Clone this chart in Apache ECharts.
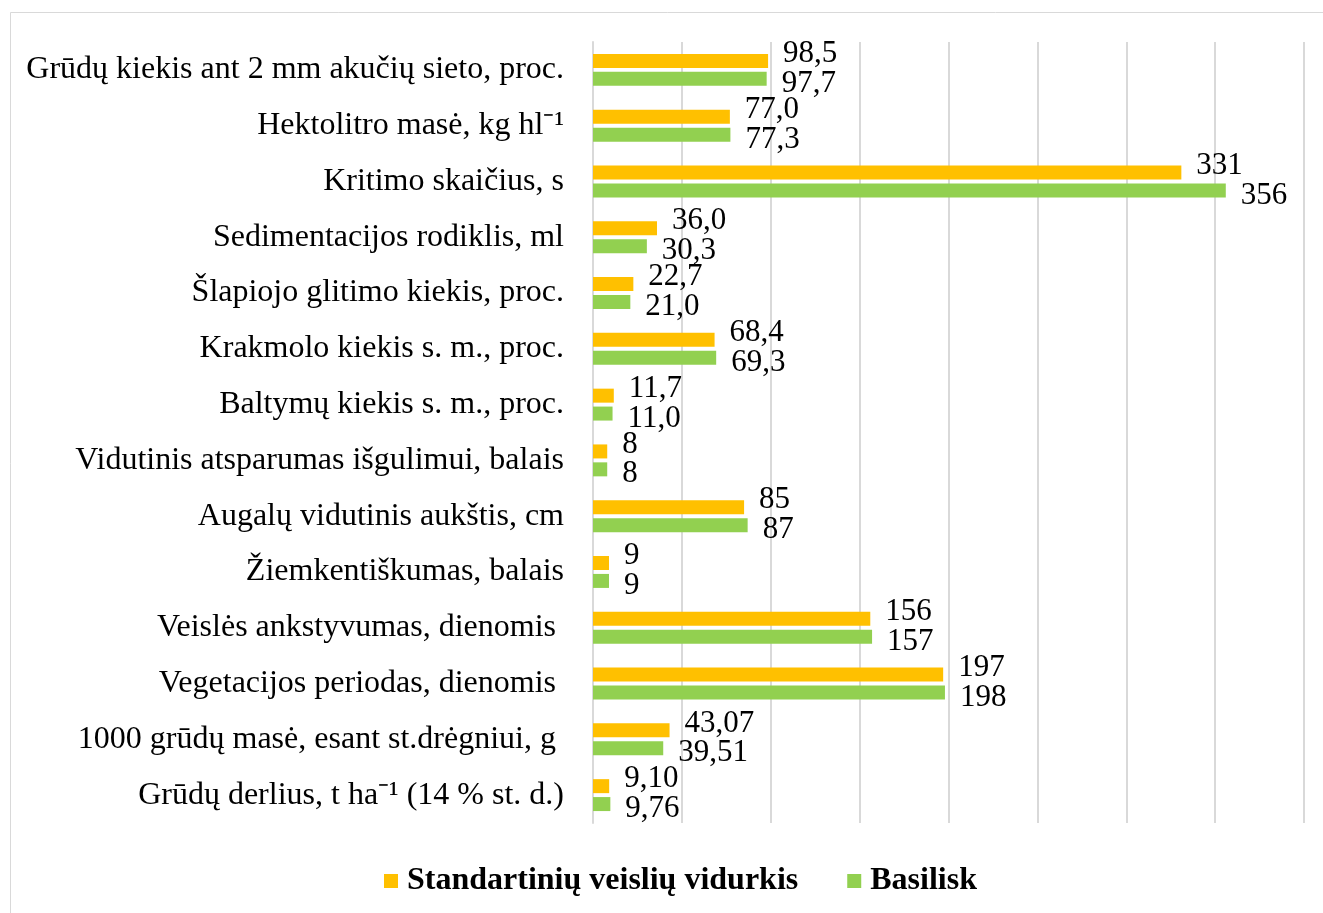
<!DOCTYPE html>
<html>
<head>
<meta charset="utf-8">
<script src="https://cdn.jsdelivr.net/npm/echarts@6/dist/echarts.min.js"></script>
<style>
    html, body {margin:0; padding:0; background:#fff;}
    #chart {width:1323px; height:913px;}
</style>
</head>
<body>
<div id="chart"></div>
<script>
// rodikliai (iš viršaus į apačią)
var categories = [
    'Grūdų kiekis ant 2 mm akučių sieto, proc.',
    'Hektolitro masė, kg hl⁻¹',
    'Kritimo skaičius, s',
    'Sedimentacijos rodiklis, ml',
    'Šlapiojo glitimo kiekis, proc.',
    'Krakmolo kiekis s. m., proc.',
    'Baltymų kiekis s. m., proc.',
    'Vidutinis atsparumas išgulimui, balais',
    'Augalų vidutinis aukštis, cm',
    'Žiemkentiškumas, balais',
    'Veislės ankstyvumas, dienomis ',
    'Vegetacijos periodas, dienomis ',
    '1000 grūdų masė, esant st.drėgniui, g ',
    'Grūdų derlius, t ha⁻¹ (14 % st. d.)'
];
var standartValues = [98.5, 77.0, 331, 36.0, 22.7, 68.4, 11.7, 8, 85, 9, 156, 197, 43.07, 9.10];
var basiliskValues = [97.7, 77.3, 356, 30.3, 21.0, 69.3, 11.0, 8, 87, 9, 157, 198, 39.51, 9.76];
var decimals = [1, 1, 0, 1, 1, 1, 1, 0, 0, 0, 0, 0, 2, 2]; //skaičių po kablelio

var serif = "'Liberation Serif', 'Times New Roman', serif";

function fmt(p) {
    return p.value.toFixed(decimals[p.dataIndex]).replace('.', ',');
}

var myChart = echarts.init(document.getElementById('chart'));
var option = {
    animation: false,
    backgroundColor: '#fff',
    graphic: [{
        type: 'rect',
        shape: {x: 10.5, y: 12.5, width: 1340, height: 940},
        style: {fill: 'none', stroke: '#d9d9d9', lineWidth: 1}
    }],
    grid: {left: 593, right: 19, top: 42, bottom: 90, containLabel: false},
    legend: {
        left: 379,
        top: 860,
        itemGap: 49,
        itemWidth: 14,
        itemHeight: 14,
        icon: 'rect',
        textStyle: {fontFamily: serif, fontSize: 32, fontWeight: 'bold', color: '#000', padding: [0, 0, 0, 4]},
        data: ['Standartinių veislių vidurkis', 'Basilisk']
    },
    xAxis: {
        type: 'value',
        min: 0,
        max: 400,
        interval: 50,
        axisLabel: {show: false},
        axisLine: {show: false},
        axisTick: {show: false},
        splitLine: {lineStyle: {color: '#d9d9d9', width: 2}}
    },
    yAxis: {
        type: 'category',
        inverse: true,
        data: categories,
        axisTick: {show: false},
        axisLine: {lineStyle: {color: '#d9d9d9', width: 2}},
        axisLabel: {fontFamily: serif, fontSize: 32, color: '#000', margin: 29}
    },
    series: [
        {
            name: 'Standartinių veislių vidurkis',
            type: 'bar',
            data: standartValues,
            barWidth: 14,
            barGap: '28%',
            itemStyle: {color: '#FFC000'},
            label: {
                show: true, position: 'right', distance: 15, offset: [0, -7],
                fontFamily: serif, fontSize: 31, color: '#000', formatter: fmt
            }
        },
        {
            name: 'Basilisk',
            type: 'bar',
            data: basiliskValues,
            barWidth: 14,
            barGap: '28%',
            itemStyle: {color: '#92D050'},
            label: {
                show: true, position: 'right', distance: 15, offset: [0, 5],
                fontFamily: serif, fontSize: 31, color: '#000', formatter: fmt
            }
        }
    ]
};
myChart.setOption(option);
</script>
</body>
</html>
